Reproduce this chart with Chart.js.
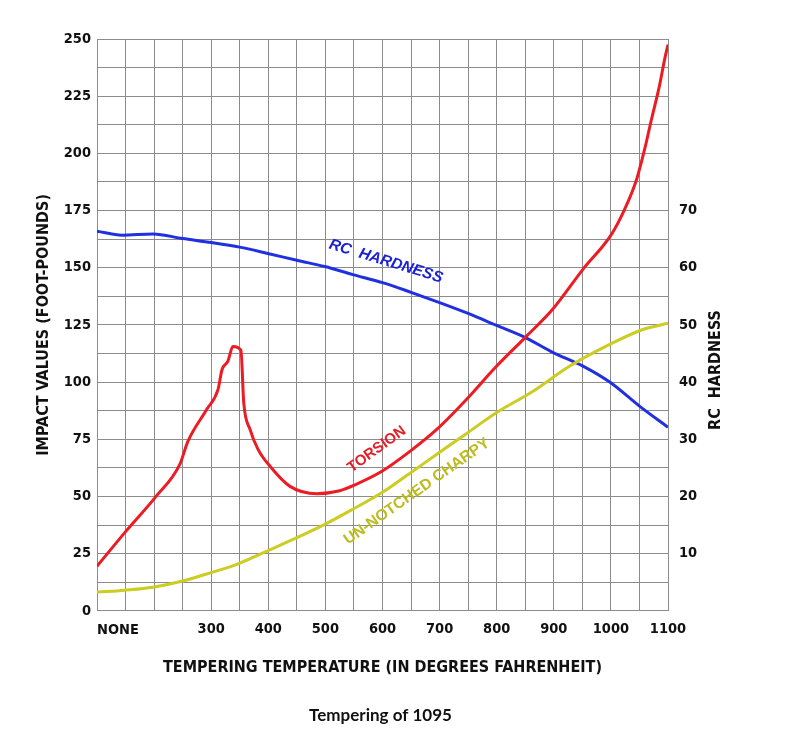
<!DOCTYPE html>
<html><head><meta charset="utf-8">
<script src="https://cdn.jsdelivr.net/npm/chart.js@4.4.1/dist/chart.umd.min.js"></script>
<style>html,body{margin:0;padding:0;background:#fff;}</style>
</head><body>
<canvas id="c" width="797" height="744"></canvas>
<script>
// ---- data ----
const torsionTemps  = [100, 149, 202, 245, 259, 292, 312, 319, 329, 338, 352, 357, 368, 382, 403, 438, 485, 525, 551, 599, 648, 695, 747, 800, 852, 898, 951, 1001, 1024, 1045, 1059, 1071, 1085, 1094, 1100];
const torsionValues = [19.5, 34.3, 49.6, 64, 74, 88, 96.8, 105.5, 109, 115.6, 114, 91, 79.3, 70.6, 63.2, 54.4, 51.2, 52.5, 55, 61, 69.7, 79.3, 92.4, 107, 120, 131.8, 149.3, 164.6, 175.5, 188.6, 201.7, 214.8, 229.5, 241, 247.6];

const charpyTemps  = [100, 149, 198, 250, 301, 345, 397, 450, 499, 548, 600, 650, 700, 750, 800, 863, 928, 998, 1056, 1100];
const charpyValues = [8.1, 9, 10.3, 13, 16.8, 20.3, 26, 32, 37.8, 44.4, 51.8, 60.5, 69.3, 78, 86.7, 95.9, 107, 116.5, 123, 125.7];

const hardnessTemps  = [100, 144, 198, 250, 301, 350, 399, 450, 499, 548, 600, 650, 700, 750, 800, 852, 898, 951, 998, 1050, 1100];
const hardnessValues = [66.4, 65.7, 65.9, 65.1, 64.4, 63.6, 62.5, 61.3, 60.2, 58.8, 57.4, 55.7, 53.9, 52, 49.9, 47.7, 45.2, 42.8, 40, 35.8, 32.1];

const xTickValues = [300, 400, 500, 600, 700, 800, 900, 1000, 1100];
const xNoneLabel = 'NONE';
const leftTickValues = [0, 25, 50, 75, 100, 125, 150, 175, 200, 225, 250];
const rightTickValues = [10, 20, 30, 40, 50, 60, 70];

const curveNotes = [
  {text: 'RC  HARDNESS', t: 606, v: 152.8, angle: 17, color: '#1b22d6', font: 'italic bold 15.5px "Liberation Sans", Arial, sans-serif'},
  {text: 'TORSION', t: 590, v: 70.6, angle: -36, color: '#e41e26', font: 'bold 15px "Liberation Sans", Arial, sans-serif'},
  {text: 'UN-NOTCHED CHARPY', t: 660, v: 52.2, angle: -35, color: '#bcbc1e', font: 'bold 15.5px "Liberation Sans", Arial, sans-serif'}
];

const GRID = '#8c8c8c';
const NARROW = '"Liberation Sans Narrow", "DejaVu Sans Condensed", Arial, sans-serif';

const toPoints = (xs, ys) => xs.map((t, i) => ({x: t, y: ys[i]}));

const annotate = {
  id: 'annotate',
  afterDraw(chart) {
    const {ctx, scales: {x, y}, chartArea} = chart;
    curveNotes.forEach(n => {
      ctx.save();
      ctx.translate(x.getPixelForValue(n.t), y.getPixelForValue(n.v));
      ctx.rotate(n.angle * Math.PI / 180);
      ctx.font = n.font;
      ctx.fillStyle = n.color;
      ctx.textAlign = 'center';
      ctx.textBaseline = 'middle';
      ctx.fillText(n.text, 0, 0);
      ctx.restore();
    });
    // "NONE" tick label, left-aligned at the first gridline
    ctx.save();
    ctx.font = 'bold 14.5px ' + NARROW;
    ctx.fillStyle = '#111';
    ctx.textAlign = 'left';
    ctx.textBaseline = 'middle';
    ctx.fillText(xNoneLabel, x.getPixelForValue(100), chartArea.bottom + 19);
    ctx.restore();
    // right axis title reading bottom-to-top
    ctx.save();
    ctx.translate(chartArea.right + 48, chartArea.top + 331);
    ctx.rotate(-Math.PI / 2);
    ctx.font = 'bold 16px ' + NARROW;
    ctx.fillStyle = '#111';
    ctx.textAlign = 'center';
    ctx.textBaseline = 'middle';
    ctx.fillText('RC  HARDNESS', 0, 0);
    ctx.restore();
  }
};

new Chart(document.getElementById('c'), {
  type: 'line',
  data: {
    datasets: [
      {label: 'Torsion', data: toPoints(torsionTemps, torsionValues), yAxisID: 'y', borderColor: '#ec1c24', borderWidth: 3},
      {label: 'Un-notched Charpy', data: toPoints(charpyTemps, charpyValues), yAxisID: 'y', borderColor: '#cccc22', borderWidth: 3},
      {label: 'RC Hardness', data: toPoints(hardnessTemps, hardnessValues), yAxisID: 'y1', borderColor: '#2030e0', borderWidth: 3}
    ]
  },
  options: {
    responsive: false,
    animation: false,
    devicePixelRatio: 1,
    layout: {padding: {top: 39, left: 0, right: 36, bottom: 0}},
    elements: {point: {radius: 0}, line: {cubicInterpolationMode: 'monotone', fill: false}},
    plugins: {
      legend: {display: false},
      tooltip: {enabled: false},
      title: {
        display: true, position: 'bottom', text: 'Tempering of 1095', color: '#111',
        font: {family: 'Lato, "Open Sans", sans-serif', size: 17, weight: 'bold'},
        padding: {top: 5, bottom: 18}
      }
    },
    scales: {
      x: {
        type: 'linear', min: 100, max: 1100,
        afterFit: s => { s.height = 89.8; },
        grid: {color: GRID, lineWidth: 1, drawTicks: false},
        border: {color: GRID},
        ticks: {
          stepSize: 50, autoSkip: false, maxRotation: 0, padding: 10, color: '#111',
          font: {family: NARROW, size: 14.5, weight: 'bold'},
          callback: v => xTickValues.includes(v) ? String(v) : ''
        },
        title: {
          display: true, text: 'TEMPERING TEMPERATURE (IN DEGREES FAHRENHEIT)', color: '#111',
          font: {family: NARROW, size: 16, weight: 'bold'}, padding: {top: 0, bottom: 23}
        }
      },
      y: {
        position: 'left', min: 0, max: 250,
        afterFit: s => { s.width = 97; },
        grid: {color: GRID, lineWidth: 1, drawTicks: false},
        border: {color: GRID},
        ticks: {
          stepSize: 12.5, autoSkip: false, padding: 6, color: '#111',
          font: {family: NARROW, size: 14.5, weight: 'bold'},
          callback: v => leftTickValues.includes(v) ? String(v) : ''
        },
        title: {
          display: true, text: 'IMPACT VALUES (FOOT-POUNDS)', color: '#111',
          font: {family: NARROW, size: 16, weight: 'bold'}, padding: {top: 34, bottom: 0}
        }
      },
      y1: {
        position: 'right', min: 0, max: 100,
        afterFit: s => { s.width = 93; },
        grid: {display: false, drawTicks: false},
        border: {display: false},
        ticks: {
          stepSize: 5, autoSkip: false, padding: 11, color: '#111',
          font: {family: NARROW, size: 14.5, weight: 'bold'},
          callback: v => rightTickValues.includes(v) ? String(v) : ''
        }
      }
    }
  },
  plugins: [annotate]
});
</script>
</body></html>
